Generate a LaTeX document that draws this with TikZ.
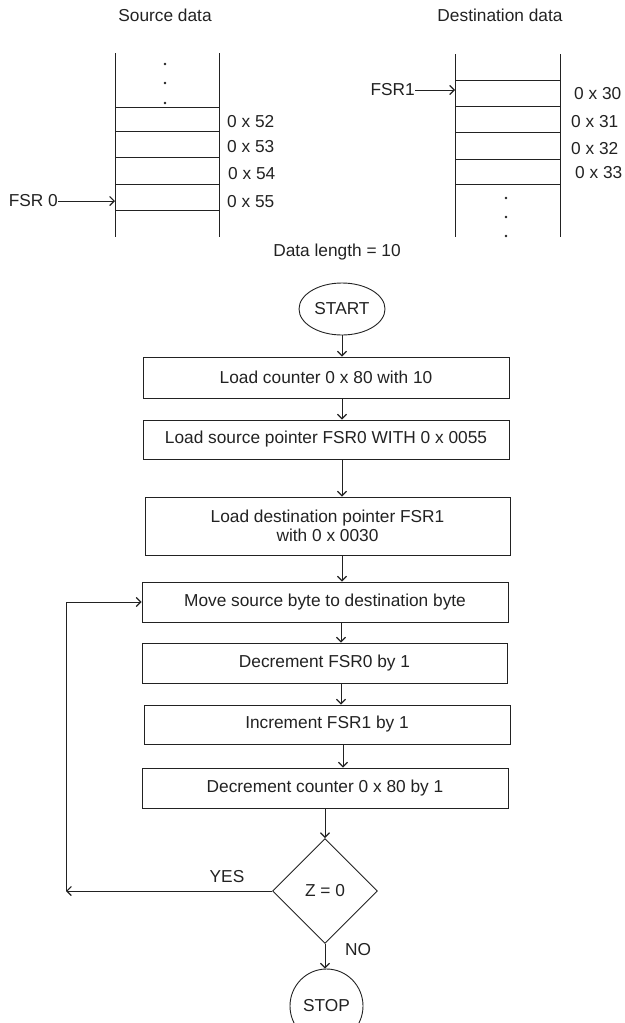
\documentclass[tikz,border=0pt]{standalone}
\usepackage{fontspec}
\setmainfont{Liberation Sans}
\usetikzlibrary{arrows.meta,shapes.geometric}
\definecolor{ink}{HTML}{222222}
\begin{document}
\begin{tikzpicture}[x=1pt,y=-1pt,
  every node/.style={font=\fontsize{17.3}{20}\selectfont, text=ink},
  ln/.style={draw=ink, line width=0.9pt},
  arr/.style={ln, -{Straight Barb[length=4.5pt,width=9pt,line width=1.2pt]}},
  procbox/.style={ln, rectangle, inner sep=0pt, minimum width=366pt},
  term/.style={ln, ellipse, inner sep=0pt},
  lbl/.style={anchor=west, inner sep=0pt},
  dot/.style={fill=ink, draw=none, circle, inner sep=0pt, minimum size=2.6pt}
]
\useasboundingbox (0,0) rectangle (624,1023);
\clip (0,0) rectangle (624,1023);

% ---------- Source data memory ----------
\node (srctitle) at (165,15) {Source data};
\draw[ln] (115,53) -- (115,237);
\draw[ln] (219,53) -- (219,237);
\foreach \yy in {107,131,157,184,210} \draw[ln] (115,\yy) -- (219,\yy);
\node[dot] (sd1) at (165,64) {};
\node[dot] (sd2) at (165,83) {};
\node[dot] (sd3) at (165,103) {};
\node[lbl] (s52) at (227,122) {0 x 52};
\node[lbl] (s53) at (227,147) {0 x 53};
\node[lbl] (s54) at (228,174) {0 x 54};
\node[lbl] (s55) at (227,202) {0 x 55};
\node[anchor=east, inner sep=0pt] (fsr0) at (58,201) {FSR 0};
\coordinate (s55wall) at (115,201);
\draw[arr] (fsr0.east) -- (s55wall);

% ---------- Destination data memory ----------
\node (dsttitle) at (500,15) {Destination data};
\draw[ln] (455,54) -- (455,237);
\draw[ln] (560,54) -- (560,237);
\foreach \yy in {80,106,132,159,184} \draw[ln] (455,\yy) -- (560,\yy);
\node[dot] (dd1) at (506,198) {};
\node[dot] (dd2) at (506,217) {};
\node[dot] (dd3) at (506,236) {};
\node[lbl] (d30) at (574,94) {0 x 30};
\node[lbl] (d31) at (571,122) {0 x 31};
\node[lbl] (d32) at (571,149) {0 x 32};
\node[lbl] (d33) at (575,173) {0 x 33};
\node[anchor=east, inner sep=0pt] (fsr1) at (415,90) {FSR1};
\coordinate (d30wall) at (455,90);
\draw[arr] (fsr1.east) -- (d30wall);

\node (dlen) at (337,252) {Data length = 10};

% ---------- Flowchart ----------
\node[term, minimum width=86pt, minimum height=52pt] (start) at (342,309) {START};
\node[procbox, minimum height=41pt] (b1) at (326,377.5) {Load counter 0 x 80 with 10};
\node[procbox, minimum height=39pt] (b2) at (326,439.5) {Load source pointer FSR0 WITH 0 x 0055};
\node[procbox, minimum width=365pt, minimum height=58pt, align=center] (b3) at (327.5,526)
  {Load destination pointer FSR1\\[-1pt] with 0 x 0030};
\node[procbox, minimum height=40pt] (b4) at (325,602) {Move source byte to destination byte};
\node[procbox, minimum width=365pt, minimum height=40pt] (b5) at (324.5,663) {Decrement FSR0 by 1};
\node[procbox, minimum height=39pt] (b6) at (327,724.5) {Increment FSR1 by 1};
\node[procbox, minimum height=40pt] (b7) at (325,788) {Decrement counter 0 x 80 by 1};
\node[ln, diamond, inner sep=0pt, minimum width=105pt, minimum height=105pt] (dec) at (325,891) {Z = 0};
\node[term, minimum width=73pt, minimum height=74pt] (stop) at (326.5,1006) {STOP};

\coordinate (colA) at (342,0);
\coordinate (colB) at (341,0);
\coordinate (colC) at (343,0);

\draw[arr] (start.south) -- (start.south |- b1.north);
\draw[arr] (b1.south -| colA) -- (b2.north -| colA);
\draw[arr] (b2.south -| colA) -- (b3.north -| colA);
\draw[arr] (b3.south -| colA) -- (b4.north -| colA);
\draw[arr] (b4.south -| colB) -- (b5.north -| colB);
\draw[arr] (b5.south -| colB) -- (b6.north -| colB);
\draw[arr] (b6.south -| colC) -- (b7.north -| colC);
\draw[arr] (b7.south -| dec.north) -- (dec.north);
\draw[arr] (dec.south) -- (dec.south |- stop.north);

\coordinate (loop) at (66,891);
\draw[arr] (dec.west) -- (loop);
\draw[arr] (loop) -- (loop |- b4.west) -- (b4.west);

\node (yes) at (227,877) {YES};
\node (no) at (358,950) {NO};
\end{tikzpicture}
\end{document}
